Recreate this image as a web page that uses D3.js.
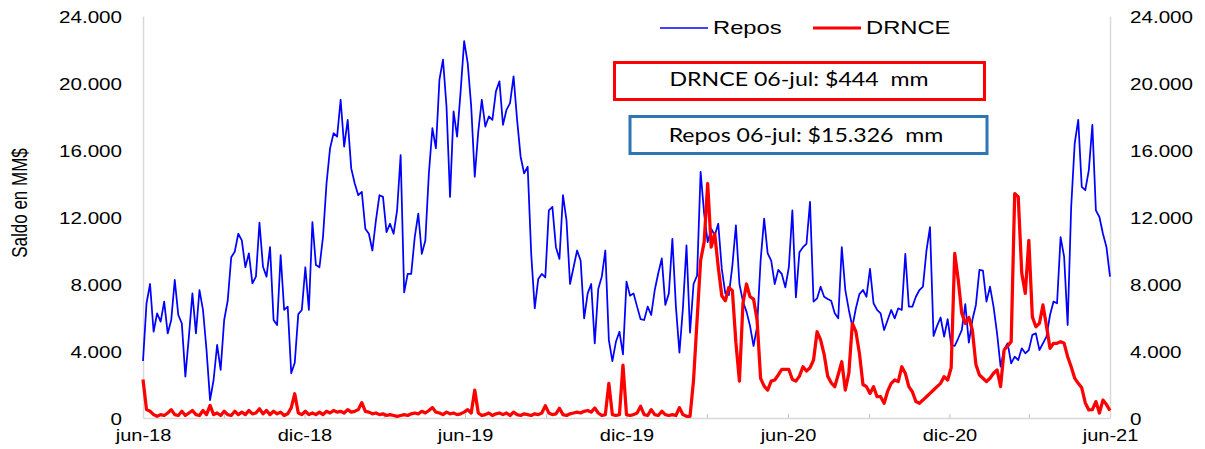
<!DOCTYPE html>
<html>
<head>
<meta charset="utf-8">
<script src="https://cdnjs.cloudflare.com/ajax/libs/d3/7.8.5/d3.min.js"></script>
<style>
	body { margin: 0; background: #fff; }
	svg { display: block; font-family: "Liberation Sans", Arial, sans-serif; }
	.box-text { white-space: pre; font-family: Lato, "Open Sans", sans-serif; }
</style>
</head>
<body>
<div id="graph"></div>
<script>

// Saldos diarios en MM$, un dato cada 4 dias desde el 1-jun-2018:
let startDate = "2018-06-01";
let stepDays = 4;

let repos = [
	3400, 6850, 8000, 5150, 6250, 5750, 6950, 5050, 5850, 8240,
	6150, 5650, 2470, 4860, 7440, 5050, 7640, 6450, 4060, 1070,
	2270, 4360, 2870, 5850, 7000, 9600, 9930, 11000, 10600, 9000,
	9830, 8040, 8440, 11660, 9030, 8440, 10200, 5850, 5550, 9730,
	6450, 6650, 2670, 3300, 6200, 6450, 9000, 6450, 11700, 9130,
	9000, 10800, 14000, 16100, 17000, 16800, 19000, 16200, 17800, 14900,
	14000, 13300, 13500, 11300, 11000, 10000, 11800, 13300, 13200, 11100,
	11600, 11000, 12400, 15700, 7500, 8600, 8600, 10800, 12200, 9800,
	10600, 14600, 17300, 16100, 20200, 21400, 18600, 13200, 18300, 16800,
	19500, 22500, 21200, 18600, 14400, 17100, 19000, 17400, 18000, 17800,
	19500, 20100, 17500, 18400, 18800, 20400, 17800, 15600, 14600, 15000,
	9800, 6550, 8300, 8600, 8400, 12400, 12600, 10200, 9500, 13300,
	11800, 8000, 9000, 10000, 9400, 5950, 7440, 8000, 4450, 7700,
	8440, 10000, 4650, 3400, 4550, 5150, 3800, 8140, 7300, 7440,
	6650, 5900, 5850, 6650, 6150, 7640, 8640, 9530, 6750, 7440,
	10700, 6650, 3900, 6600, 10300, 5100, 8000, 8500, 14700, 12200,
	10500, 11300, 10900, 11600, 8900, 7440, 7340, 9100, 11500, 8000,
	6950, 6350, 5500, 4300, 5450, 9400, 11900, 9830, 9400, 8000,
	8840, 8600, 7800, 9000, 12400, 7200, 9900, 10200, 10400, 12900,
	6950, 7140, 7840, 7240, 7100, 7000, 6250, 5950, 10200, 7640,
	6450, 5450, 6550, 7400, 7640, 7240, 8900, 6850, 6450, 6250,
	5250, 5850, 6450, 5950, 6550, 6450, 9800, 6650, 6650, 7240,
	7640, 7840, 10000, 11400, 4900, 5500, 6000, 4860, 5900, 4360,
	4300, 4760, 5250, 6800, 4500, 5850, 6750, 8840, 8800, 6950,
	7840, 6650, 5050, 3060, 4100, 4460, 3260, 3660, 3460, 4160,
	3860, 4060, 4960, 5050, 4060, 4460, 4860, 6150, 6950, 6850,
	10800, 9630, 5550, 12600, 16400, 17800, 13800, 13600, 14800, 17500,
	12400, 12000, 11000, 10200, 8440
	];

let drnce = [
	2300, 500, 400, 200, 100, 200, 150, 300, 500, 200,
	150, 400, 150, 300, 450, 200, 150, 450, 200, 750,
	200, 300, 150, 400, 200, 150, 400, 200, 350, 200,
	450, 250, 300, 550, 250, 450, 200, 400, 250, 350,
	150, 250, 600, 1450, 300, 200, 400, 200, 300, 200,
	350, 200, 400, 300, 450, 350, 400, 300, 500, 350,
	400, 500, 920, 400, 350, 250, 300, 200, 250, 150,
	200, 150, 100, 150, 200, 150, 250, 300, 250, 400,
	300, 450, 620, 350, 300, 200, 350, 250, 300, 200,
	250, 350, 500, 300, 1670, 300, 150, 200, 300, 150,
	250, 300, 200, 300, 150, 350, 200, 150, 250, 200,
	150, 250, 200, 300, 740, 300, 200, 250, 580, 200,
	150, 250, 300, 350, 300, 400, 450, 350, 600, 300,
	150, 200, 2070, 200, 150, 200, 3160, 200, 150, 200,
	300, 700, 200, 150, 500, 200, 150, 400, 200, 150,
	200, 150, 620, 200, 100, 100, 2270, 5850, 9400, 10500,
	14000, 10200, 11000, 9000, 7300, 7000, 7800, 7600, 4500, 2200,
	6850, 8000, 7240, 7100, 5850, 2370, 1900, 1670, 2200, 2270,
	2570, 2900, 2900, 2900, 2300, 2200, 2500, 3060, 2800, 3000,
	3460, 5150, 4660, 3800, 2500, 2100, 1870, 2600, 3360, 1670,
	2670, 5650, 5150, 3860, 2000, 1870, 1470, 1870, 1270, 1270,
	880, 1600, 2070, 2270, 2170, 3060, 2670, 1870, 1570, 980,
	880, 1070, 1270, 1470, 1670, 1870, 2070, 2470, 2270, 3000,
	9830, 8240, 6250, 5650, 6000, 5250, 3200, 2570, 2370, 2170,
	2370, 2670, 2870, 1870, 4060, 4300, 4560, 13400, 13200, 8640,
	7440, 10600, 6040, 5450, 5650, 6750, 5500, 4160, 4460, 4460,
	4560, 4460, 3660, 3060, 2370, 2070, 1800, 900, 480, 500,
	980, 300, 1070, 800, 444
	];

let yTicks = [0, 4000, 8000, 12000, 16000, 20000, 24000];

// Marcas trimestrales; solo las semestrales llevan etiqueta:
let xTickDates = [
	"2018-06-01", "2018-09-01", "2018-12-01", "2019-03-01", "2019-06-01",
	"2019-09-01", "2019-12-01", "2020-03-01", "2020-06-01", "2020-09-01",
	"2020-12-01", "2021-03-01", "2021-06-01"
	];
let xTickLabels = [
	"jun-18", "", "dic-18", "", "jun-19", "", "dic-19", "",
	"jun-20", "", "dic-20", "", "jun-21"
	];

let seriesNames = ["Repos", "DRNCE"];
let seriesColours = ["#0000ff", "#ff0000"];

let boxTexts = ["DRNCE 06-jul: $444  mm", "Repos 06-jul: $15.326  mm"];
let boxColours = ["#ff0000", "#2e75b6"];

let yTitle = "Saldo en MM$";



let width = 1205;
let height = 449;
let padding = {
	top: 16,
	right: 95,
	bottom: 31,
	left: 143
	};
// Texto del original viene estirado en horizontal:
let stretch = "scale(1.25,1)";

let parseDate = d3.utcParse("%Y-%m-%d");
let start = parseDate(startDate);

let data = repos.map( (v, i) => ({
	date: d3.utcDay.offset(start, i * stepDays),
	repos: v,
	drnce: drnce[i]
	}));

let locale = d3.formatLocale({
	decimal: ",",
	thousands: ".",
	grouping: [3],
	currency: ["$", ""]
	});
let fmt = locale.format(",.0f");


let svg = d3.select("#graph")
	.append("svg")
		.attr("width", width)
		.attr("height", height)
	;

let xScale = d3.scaleUtc()
	.domain([parseDate(xTickDates[0]), parseDate(xTickDates[xTickDates.length - 1])])
	.range([padding.left, width - padding.right])
	;

let yScale = d3.scaleLinear()
	.domain([0, 24000])
	.range([height - padding.bottom, padding.top])
	;


// Ejes:
let xAxis = d3.axisBottom(xScale)
	.tickValues(xTickDates.map(parseDate))
	.tickSizeInner(-4)
	.tickSizeOuter(0)
	.tickFormat( (d, i) => xTickLabels[i] )
	;

let yAxisLeft = d3.axisLeft(yScale)
	.tickValues(yTicks)
	.tickSize(0)
	.tickFormat(fmt)
	;
let yAxisRight = d3.axisRight(yScale)
	.tickValues(yTicks)
	.tickSize(0)
	.tickFormat(fmt)
	;

let gx = svg
	.append("g")
		.attr("transform", `translate(0, ${height - padding.bottom})`)
		.call(xAxis)
	;
gx.selectAll("text")
	.attr("y", 0)
	.attr("dy", null)
	.attr("transform", `translate(0, 23) ${stretch}`)
	.style("font-size", "16px")
	.attr("fill", "#000")
	;

let gyl = svg
	.append("g")
		.attr("transform", `translate(${padding.left}, 0)`)
		.call(yAxisLeft)
	;
gyl.selectAll("text")
	.attr("x", 0)
	.attr("dy", null)
	.attr("transform", `translate(-21, 6) ${stretch}`)
	.style("font-size", "16.5px")
	.attr("fill", "#000")
	;

let gyr = svg
	.append("g")
		.attr("transform", `translate(${width - padding.right}, 0)`)
		.call(yAxisRight)
	;
gyr.selectAll("text")
	.attr("x", 0)
	.attr("dy", null)
	.attr("transform", `translate(20, 6) ${stretch}`)
	.style("font-size", "16.5px")
	.attr("fill", "#000")
	;

svg.selectAll(".domain")
	.attr("stroke", "#d9d9d9")
	.attr("stroke-width", 1.5)
	;
gx.selectAll(".tick line")
	.attr("stroke", "#bfbfbf")
	;
svg.selectAll("g text")
	.attr("font-family", null)
	;


// Titulo eje Y:
svg
	.append("text")
		.attr("transform", `translate(27, 203) ${stretch} rotate(-90)`)
		.attr("text-anchor", "middle")
		.style("font-size", "17px")
		.text(yTitle)
	;


// Series:
let lineRepos = d3.line()
	.x(d => xScale(d.date))
	.y(d => yScale(d.repos))
	;
let lineDrnce = d3.line()
	.x(d => xScale(d.date))
	.y(d => yScale(d.drnce))
	;

svg
	.append("path")
		.datum(data)
		.attr("d", lineRepos)
		.attr("fill", "none")
		.attr("stroke", seriesColours[0])
		.attr("stroke-width", 1.75)
		.attr("stroke-linejoin", "round")
	;
svg
	.append("path")
		.datum(data)
		.attr("d", lineDrnce)
		.attr("fill", "none")
		.attr("stroke", seriesColours[1])
		.attr("stroke-width", 3.25)
		.attr("stroke-linejoin", "round")
	;


// Leyenda:
let legend = svg
	.selectAll(".legend")
	.data(seriesNames)
	.enter()
		.append("g")
			.attr("class", "legend")
			.attr("transform", (d, i) => `translate(${[660, 813][i]}, 28)`)
	;
legend
	.append("line")
		.attr("x1", 0)
		.attr("x2", 48)
		.attr("stroke", (d, i) => seriesColours[i])
		.attr("stroke-width", (d, i) => [1.5, 3][i])
	;
legend
	.append("text")
		.attr("transform", `translate(53, 6) ${stretch}`)
		.style("font-size", "19px")
		.text(d => d)
	;


// Cuadros con el ultimo dato:
let boxes = svg
	.selectAll(".box")
	.data(boxTexts)
	.enter()
		.append("g")
			.attr("class", "box")
	;
boxes
	.append("rect")
		.attr("x", (d, i) => [614.5, 630][i])
		.attr("y", (d, i) => [62.5, 116.5][i])
		.attr("width", (d, i) => [370, 357][i])
		.attr("height", 37)
		.attr("fill", "#fff")
		.attr("stroke", (d, i) => boxColours[i])
		.attr("stroke-width", 3)
	;
boxes
	.append("text")
		.attr("class", "box-text")
		.attr("transform", (d, i) => `translate(${[799, 806][i]}, ${[86, 141.5][i]}) ${stretch}`)
		.attr("text-anchor", "middle")
		.style("font-size", "18.5px")
		.text(d => d)
	;

</script>
</body>
</html>
